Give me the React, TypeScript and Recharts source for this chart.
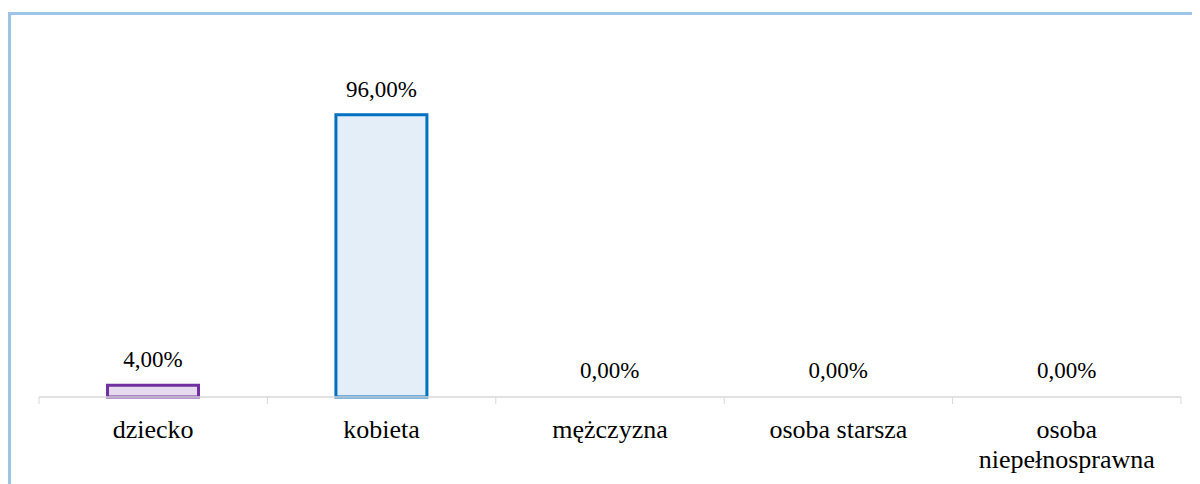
import { BarChart, Bar, XAxis, YAxis, Cell } from "recharts";

const categories = ["dziecko", "kobieta", "mężczyzna", "osoba starsza", "osoba niepełnosprawna"];
const shares = [0.04, 0.96, 0, 0, 0];
const strokes = ["#7030A0", "#0070C0", "#A5A5A5", "#FFC000", "#5B9BD5"];
const fills = ["#E6DAEF", "#E4EEF8", "#EDEDED", "#FFF2CC", "#DEEBF7"];

const CHART_W = 1189;
const CHART_H = 469;
const MARGIN = { top: 88, right: 19, bottom: 7, left: 28 };
const BAND = (CHART_W - MARGIN.left - MARGIN.right) / categories.length;
const SERIF = "Liberation Serif";

const data = categories.map((name, i) => ({ name, value: shares[i] }));

const fmt = (v: number) => (v * 100).toFixed(2).replace(".", ",") + "%";

const wrap = (s: string) => (s.length > 15 ? s.split(" ") : [s]);

const CategoryTick = (props: any) => {
  const { x, y, payload, index } = props;
  const lines = wrap(payload.value);
  const last = index === categories.length - 1;
  return (
    <g transform={`translate(${x},${y})`}>
      <line x1={-BAND / 2} y1={0} x2={-BAND / 2} y2={7} stroke="#D9D9D9" />
      {last && <line x1={BAND / 2} y1={0} x2={BAND / 2} y2={7} stroke="#D9D9D9" />}
      {lines.map((t, i) => (
        <text key={i} className="serif-label" x={0} y={41 + i * 30} textAnchor="middle" fontFamily={SERIF} fontSize={26} fill="#000">
          {t}
        </text>
      ))}
    </g>
  );
};

const ValueLabel = (props: any) => {
  const { x, y, width, value } = props;
  return (
    <text className="serif-label" x={x + width / 2} y={y - 18} textAnchor="middle" fontFamily={SERIF} fontSize={23} fill="#000">
      {fmt(Number(value) || 0)}
    </text>
  );
};

export default function App() {
  return (
    <div style={{ paddingTop: 4 }}>
      <style>{`.recharts-surface text, .serif-label { font-family: "Liberation Serif" !important; }`}</style>
      <div
        style={{
          width: 1189,
          height: 469,
          borderLeft: "3px solid #9DC3E6",
          borderTop: "3px solid #9DC3E6",
        }}
      >
        <BarChart width={CHART_W} height={CHART_H} data={data} margin={MARGIN} barCategoryGap="30%">
          <YAxis hide domain={[0, 1]} />
          <XAxis
            dataKey="name"
            height={80}
            axisLine={{ stroke: "#D9D9D9", strokeWidth: 1.5 }}
            tickLine={false}
            tickSize={0}
            tickMargin={0}
            interval={0}
            tick={<CategoryTick />}
          />
          <Bar
            dataKey="value"
            strokeWidth={3}
            minPointSize={1}
            isAnimationActive={false}
            label={<ValueLabel />}
          >
            {data.map((d, i) => (
              <Cell
                key={d.name}
                fill={d.value > 0 ? fills[i] : "none"}
                stroke={d.value > 0 ? strokes[i] : "none"}
              />
            ))}
          </Bar>
        </BarChart>
      </div>
    </div>
  );
}
